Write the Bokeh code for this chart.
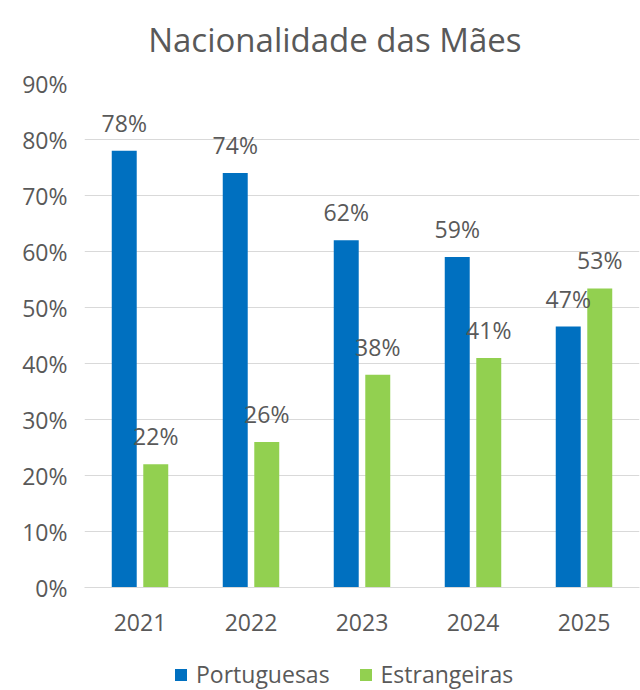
from bokeh.plotting import figure
from bokeh.layouts import column
from bokeh.models import ColumnDataSource, FactorRange, Range1d, Legend, LegendItem, CustomJSTickFormatter
from bokeh.transform import dodge
from bokeh.core.properties import value
from bokeh.embed import file_html
from bokeh.resources import INLINE

title_text = "Nacionalidade das Mães"
years = ["2021", "2022", "2023", "2024", "2025"]
portuguesas = [78, 74, 62, 59, 46.6]
estrangeiras = [22, 26, 38, 41, 53.4]
y_ticks = [0, 10, 20, 30, 40, 50, 60, 70, 80, 90]
series_names = ["Portuguesas", "Estrangeiras"]

FONT = "Open Sans"
TXT = "#595959"
BLUE = "#0070C0"
GREEN = "#92D050"

src = ColumnDataSource(dict(
    year=years,
    pt=portuguesas,
    es=estrangeiras,
    pt_lbl=[f"{round(v)}%" for v in portuguesas],
    es_lbl=[f"{round(v)}%" for v in estrangeiras],
))

# title strip
tt = figure(width=640, height=60, x_range=Range1d(0, 1), y_range=Range1d(0, 1),
            output_backend="svg", toolbar_location=None,
            min_border_left=84, min_border_right=1, min_border_top=0, min_border_bottom=0)
tt.axis.visible = False
tt.grid.grid_line_color = None
tt.outline_line_color = None
tt.text(x=[0.451], y=[0.35], text=[title_text], text_align="center", text_baseline="alphabetic",
        text_font=value(FONT), text_font_size="33px", text_color=TXT)

# main chart
p = figure(width=640, height=579, x_range=FactorRange(*years), y_range=Range1d(0, 90),
           output_backend="svg", toolbar_location=None,
           min_border_left=84, min_border_right=1, min_border_top=23, min_border_bottom=52)

p.outline_line_color = None
p.background_fill_color = "white"
p.border_fill_color = "white"

off = 0.142
bw = 0.225
r1 = p.vbar(x=dodge("year", -off, range=p.x_range), top="pt", width=bw, source=src,
            fill_color=BLUE, line_color=None)
r2 = p.vbar(x=dodge("year", off, range=p.x_range), top="es", width=bw, source=src,
            fill_color=GREEN, line_color=None)

p.text(x=dodge("year", -off, range=p.x_range), y="pt", text="pt_lbl", source=src,
       text_align="center", text_baseline="alphabetic", y_offset=-28,
       text_font=value(FONT), text_font_size="23px", text_color=TXT)
p.text(x=dodge("year", off, range=p.x_range), y="es", text="es_lbl", source=src,
       text_align="center", text_baseline="alphabetic", y_offset=-28,
       text_font=value(FONT), text_font_size="23px", text_color=TXT)

# y axis
p.yaxis.ticker = y_ticks
p.yaxis.formatter = CustomJSTickFormatter(code="return tick + '%';")
p.yaxis.axis_line_color = None
p.yaxis.major_tick_line_color = None
p.yaxis.minor_tick_line_color = None
p.yaxis.major_label_text_font = FONT
p.yaxis.major_label_text_font_size = "23px"
p.yaxis.major_label_text_color = TXT
p.yaxis.major_label_standoff = 11

# x axis
p.xaxis.axis_line_color = "#D9D9D9"
p.xaxis.axis_line_width = 1
p.xaxis.major_tick_line_color = None
p.xaxis.minor_tick_line_color = None
p.xaxis.major_label_text_font = FONT
p.xaxis.major_label_text_font_size = "23px"
p.xaxis.major_label_text_color = TXT
p.xaxis.major_label_standoff = 20

p.xgrid.grid_line_color = None
p.ygrid.grid_line_color = "#D9D9D9"
p.ygrid.grid_line_width = 1

# legend in a small companion figure below (bars fall outside its visible range)
lg = figure(width=640, height=51, x_range=FactorRange(*years), y_range=Range1d(500, 501),
            output_backend="svg", toolbar_location=None,
            min_border_left=84, min_border_right=1, min_border_top=0, min_border_bottom=0)
lg.axis.visible = False
lg.grid.grid_line_color = None
lg.outline_line_color = None
lg.background_fill_color = "white"
lg.border_fill_color = "white"
l1 = lg.vbar(x="year", top="pt", width=0.2, source=src, fill_color=BLUE, line_color=None)
l2 = lg.vbar(x="year", top="es", width=0.2, source=src, fill_color=GREEN, line_color=None)
legend = Legend(items=[LegendItem(label=series_names[0], renderers=[l1]),
                       LegendItem(label=series_names[1], renderers=[l2])],
                orientation="horizontal", location=(89, 0),
                label_text_font=FONT, label_text_font_size="23px", label_text_color=TXT,
                glyph_width=15, glyph_height=15, label_standoff=8, spacing=28,
                padding=0, margin=0, border_line_color=None, background_fill_alpha=0)
lg.add_layout(legend, "center")

layout = column(tt, p, lg, spacing=0)
open("out.html", "w").write(file_html(layout, INLINE))
